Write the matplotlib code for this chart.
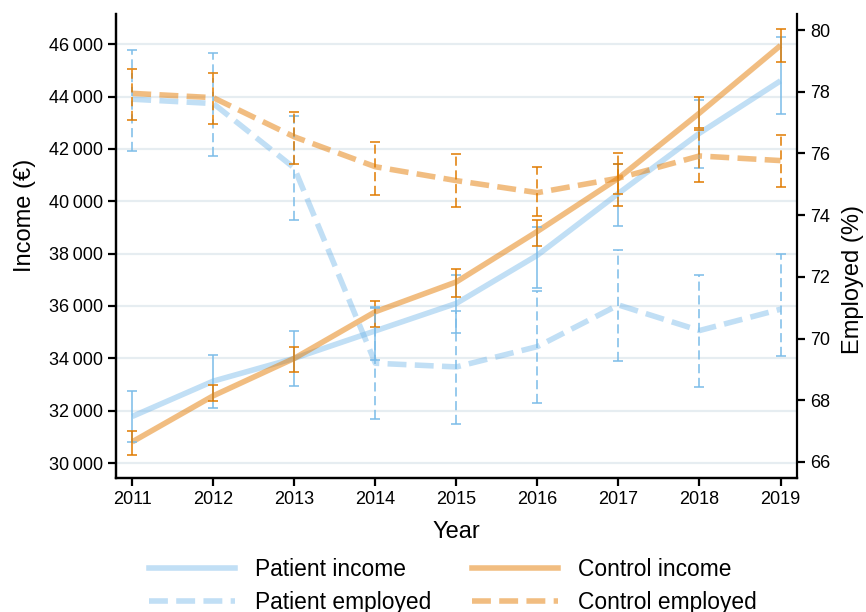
import numpy as np
import matplotlib.pyplot as plt
from matplotlib.lines import Line2D
from matplotlib.ticker import FuncFormatter

plt.rcParams['font.family'] = ['Liberation Sans', 'DejaVu Sans']

years = [2011, 2012, 2013, 2014, 2015, 2016, 2017, 2018, 2019]

# income (EUR): mean, lower and upper CI
patient_income = [31780, 33130, 34000, 35050, 36100, 37940, 40300, 42600, 44600]
patient_income_lo = [30790, 32090, 32960, 33940, 34970, 36680, 39050, 41270, 43320]
patient_income_hi = [32740, 34140, 35050, 35930, 37200, 39010, 41440, 43850, 46280]

control_income = [30810, 32570, 34000, 35780, 36920, 38850, 40880, 43370, 45950]
control_income_lo = [30320, 32380, 33470, 35190, 36350, 38310, 40290, 42800, 45330]
control_income_hi = [31210, 32970, 34450, 36200, 37410, 39270, 41430, 43990, 46580]

# employed (%)
patient_emp = [77.76, 77.62, 75.53, 69.20, 69.08, 69.74, 71.09, 70.26, 70.95]
patient_emp_lo = [76.09, 75.93, 73.83, 67.38, 67.23, 67.90, 69.26, 68.42, 69.44]
patient_emp_hi = [79.35, 79.25, 77.20, 71.03, 70.90, 71.54, 72.88, 72.07, 72.75]

control_emp = [77.95, 77.81, 76.54, 75.57, 75.12, 74.73, 75.20, 75.92, 75.77]
control_emp_lo = [77.08, 76.94, 75.66, 74.66, 74.27, 73.97, 74.30, 75.08, 74.90]
control_emp_hi = [78.75, 78.60, 77.34, 76.36, 75.98, 75.56, 76.02, 76.77, 76.61]

blue_line = '#6cb3e8'
blue_bar = '#7bbce8'
orange_line = '#e57d05'
orange_bar = '#e07b00'
dash = (0, (3.4, 1.5))

fig = plt.figure(figsize=(8.66, 6.12), dpi=100)
ax = fig.add_axes([0.134, 0.219, 0.786, 0.758])
ax2 = ax.twinx()


def err(ax_, m, lo, hi, color, dashed):
    m = np.array(m)
    yerr = [m - np.array(lo), np.array(hi) - m]
    eb = ax_.errorbar(years, m, yerr=yerr, fmt='none', ecolor=color,
                      elinewidth=1.1, capsize=3.8, capthick=1.1, zorder=4)
    if dashed:
        eb[2][0].set_linestyle((0, (6, 3)))


# income lines (left axis)
ax.plot(years, patient_income, color=blue_line, alpha=0.42, lw=4,
        solid_capstyle='butt', zorder=3)
ax.plot(years, control_income, color=orange_line, alpha=0.5, lw=4,
        solid_capstyle='butt', zorder=3)
err(ax, patient_income, patient_income_lo, patient_income_hi, blue_bar, False)
err(ax, control_income, control_income_lo, control_income_hi, orange_bar, False)

# employed lines (right axis)
ax2.plot(years, patient_emp, color=blue_line, alpha=0.42, lw=4, ls=dash, zorder=3)
ax2.plot(years, control_emp, color=orange_line, alpha=0.5, lw=4, ls=dash, zorder=3)
err(ax2, patient_emp, patient_emp_lo, patient_emp_hi, blue_bar, True)
err(ax2, control_emp, control_emp_lo, control_emp_hi, orange_bar, True)

ax.set_xlim(2010.8, 2019.2)
ax.set_ylim(29430, 47150)
ax2.set_ylim(65.48, 80.52)
ax.set_xticks(years)
ax.set_yticks(np.arange(30000, 46001, 2000))
ax2.set_yticks(np.arange(66, 81, 2))
ax.yaxis.set_major_formatter(FuncFormatter(lambda v, p: f'{int(v):,}'.replace(',', '\u2009')))

ax.grid(axis='y', color='#e6edf1', lw=1.6)
ax.set_axisbelow(True)

for a in (ax, ax2):
    a.spines['top'].set_visible(False)
    for s in ('left', 'right', 'bottom'):
        a.spines[s].set_linewidth(1.6)
    a.tick_params(width=1.6, length=6, labelsize=13)
ax.spines['right'].set_visible(False)

ax.set_xlabel('Year', fontsize=17, labelpad=9)
ax.set_ylabel('Income (€)', fontsize=17)
ax2.set_ylabel('Employed (%)', fontsize=17)
ax.yaxis.set_label_coords(-0.117, 0.567)
ax2.yaxis.set_label_coords(1.066, 0.427)

handles = [
    Line2D([], [], color=blue_line, alpha=0.42, lw=4),
    Line2D([], [], color=blue_line, alpha=0.42, lw=4, ls=dash),
    Line2D([], [], color=orange_line, alpha=0.5, lw=4),
    Line2D([], [], color=orange_line, alpha=0.5, lw=4, ls=dash),
]
labels = ['Patient income', 'Patient employed', 'Control income', 'Control employed']
fig.legend(handles, labels, ncol=2, loc='lower center', bbox_to_anchor=(0.523, -0.036),
           frameon=False, fontsize=16.4, handlelength=3.8, handletextpad=0.88,
           columnspacing=1.76, labelspacing=0.42)

fig.savefig('out.png', dpi=100)
